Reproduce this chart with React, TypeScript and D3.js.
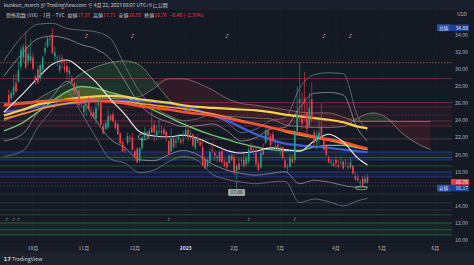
import React from 'react';
import * as d3 from 'd3';

// ---------- DATA ----------
const OPEN = [
  27.0,26.6,27.0,28.4,28.6,30.3,31.4,32.8,31.0,31.0,
  31.4,29.2,30.0,29.0,30.0,32.0,32.7,33.6,34.1,31.5,
  31.3,29.9,31.3,30.3,30.4,29.5,29.0,28.4,27.3,27.5,
  26.3,25.0,25.7,26.7,24.9,25.0,24.2,25.8,26.1,23.4,
  23.0,23.2,24.6,24.7,23.8,23.6,22.5,21.5,20.6,21.4,
  22.0,22.0,20.4,20.7,19.3,20.8,22.0,22.6,22.3,23.2,
  23.5,22.1,22.8,22.8,23.0,22.7,21.6,20.4,21.9,21.4,
  21.8,21.7,21.6,22.3,22.9,22.4,22.4,20.8,22.0,21.5,
  20.9,19.5,18.7,19.2,20.6,20.2,19.6,20.3,20.4,19.1,
  19.1,19.0,19.9,19.6,18.1,19.0,19.3,19.4,18.9,19.2,
  21.0,20.6,20.2,19.0,18.5,20.5,21.4,22.8,22.2,22.4,
  21.0,21.2,20.5,20.9,19.3,18.6,18.6,19.5,19.4,22.8,
  26.1,24.3,26.6,25.0,23.3,26.5,22.6,21.5,21.9,23.3,
  21.7,21.0,19.6,19.0,19.0,19.4,18.8,19.0,19.2,19.1,
  18.6,18.5,18.7,17.5,17.3,16.8,17.2,16.7,17.37];
const HIGH = [
  27.6,27.6,29.4,29.5,31.0,32.7,33.0,34.5,32.9,33.6,
  31.9,29.4,30.5,30.6,31.6,33.2,33.8,34.0,34.88,32.7,
  31.7,31.7,31.8,31.0,31.0,30.3,29.3,28.6,28.4,27.6,
  26.4,26.0,26.5,26.8,25.6,25.3,26.2,26.5,26.2,23.7,
  24.0,25.4,24.8,25.1,24.1,23.7,22.6,21.7,21.0,22.6,
  22.3,22.6,20.6,20.9,20.9,22.2,23.2,22.8,23.1,25.1,
  24.0,23.5,24.2,23.4,23.2,22.8,21.7,23.1,22.0,22.2,
  22.5,22.0,22.8,23.8,23.6,22.9,22.5,22.2,22.4,21.6,
  21.6,19.6,19.6,20.8,21.5,20.4,20.0,20.5,21.0,19.5,
  19.3,20.0,20.1,20.1,18.9,19.6,19.6,20.1,19.9,21.0,
  21.4,21.1,20.9,19.3,20.4,21.3,23.2,23.3,22.5,22.8,
  21.6,21.5,21.2,21.0,19.6,19.0,20.1,20.0,22.9,28.0,
  30.81,27.3,29.7,26.3,27.3,28.5,22.9,22.8,24.0,26.0,
  22.0,21.2,19.9,19.5,19.4,19.8,19.4,19.8,19.3,19.5,
  19.1,19.6,18.8,18.0,17.7,17.1,17.5,17.6,17.71];
const LOW = [
  25.9,26.3,26.8,27.3,28.4,29.9,30.8,30.0,30.4,30.9,
  29.9,28.2,28.3,28.6,29.5,31.6,32.5,32.8,31.8,30.9,
  30.4,29.6,30.2,29.6,28.8,28.6,28.3,27.0,26.8,25.7,
  25.5,24.4,24.5,25.2,24.2,24.2,23.6,25.3,23.4,22.4,
  22.8,23.0,23.9,23.8,22.9,22.3,21.3,20.3,20.2,21.2,
  21.5,20.5,19.3,19.06,19.1,20.5,21.8,22.0,21.9,22.5,
  21.5,21.7,22.4,22.0,22.3,21.5,20.0,20.3,20.7,20.8,
  21.4,21.2,21.2,22.0,21.6,21.8,20.9,20.6,21.3,20.9,
  18.6,18.3,18.4,18.6,20.2,19.3,19.1,19.1,19.0,18.5,
  18.1,18.9,19.2,17.6,17.06,18.1,18.7,18.4,18.6,18.9,
  20.3,20.0,18.6,18.1,18.3,20.0,21.2,21.8,20.9,21.3,
  20.6,20.3,19.9,19.5,18.4,18.0,18.4,18.9,19.0,22.2,
  23.9,23.0,23.9,22.5,23.1,23.8,20.9,20.6,21.2,21.7,
  20.5,19.9,19.0,18.7,18.6,18.5,18.3,18.8,18.2,18.6,
  18.2,18.3,17.7,16.9,16.8,16.4,16.17,16.6,16.55];
const CLOSE = [
  26.0,27.2,28.0,27.4,29.9,32.3,32.6,30.2,31.8,31.6,
  30.1,28.6,28.5,30.5,31.4,32.5,33.6,33.6,31.9,32.0,
  31.4,30.5,30.8,30.0,29.7,29.9,28.5,27.3,27.4,25.8,
  25.9,25.8,25.9,25.3,24.6,24.4,25.5,26.1,23.5,22.5,
  23.7,24.5,24.1,23.9,23.1,22.4,21.3,20.4,20.5,22.2,
  21.9,20.6,19.8,19.1,20.8,22.0,22.7,22.3,22.8,22.6,
  22.7,22.8,22.8,22.6,22.4,22.0,20.1,21.9,20.9,21.6,
  22.1,21.4,21.7,22.9,22.0,22.5,21.1,22.0,21.5,21.1,
  18.8,18.4,19.4,20.3,20.5,19.9,19.8,19.2,19.1,18.7,
  18.5,19.9,19.4,17.9,18.7,18.3,19.4,18.7,19.6,20.6,
  20.5,20.3,18.9,18.2,20.2,20.0,22.9,22.3,21.1,21.7,
  21.0,20.7,20.6,19.6,18.5,18.6,19.6,19.1,22.6,24.8,
  26.5,23.7,26.1,23.0,25.5,24.1,21.4,22.3,22.6,21.7,
  20.6,20.0,19.1,19.1,18.7,19.0,18.6,19.1,18.4,19.0,
  18.5,19.1,17.8,17.1,17.0,16.8,16.5,17.2,16.76];

// indicator lines, sampled at these bar indices
const SAMPLE_IDX = [-2,6,12,18,24,30,36,42,48,54,60,66,72,78,84,90,96,102,108,114,120,126,132,138,144,148];
const MA_YELLOW = [24.6,25.3,25.9,26.2,26.5,26.7,26.85,26.9,26.8,26.5,26.3,26.1,25.8,25.6,25.5,25.4,25.3,25.2,25.0,24.7,24.5,24.3,24.1,23.8,23.3,23.1];
const MA_RED = [25.8,26.0,26.2,26.35,26.4,26.4,26.35,26.2,26.0,25.7,25.5,25.3,25.0,24.8,24.6,24.3,23.9,23.6,23.2,22.8,22.5,22.1,21.8,21.5,21.0,20.7];
const MA_ORANGE = [24.2,24.8,25.3,25.7,26.0,26.2,26.3,26.3,26.2,26.0,25.8,25.6,25.4,25.1,24.8,24.4,24.0,23.6,23.2,22.7,22.3,22.0,21.7,21.3,20.9,20.6];
const MA_BLUE = [25.0,25.3,25.6,25.8,26.0,26.1,26.3,26.3,26.3,26.3,26.2,26.0,25.7,25.2,24.6,24.0,23.2,22.4,21.8,21.3,21.1,20.95,20.8,20.6,20.4,20.3];
const MA_GREEN = [22.8,23.8,25.0,26.3,27.4,28.0,27.8,27.3,26.8,26.0,25.2,24.4,23.6,22.9,22.3,21.8,21.3,20.9,20.6,20.5,20.5,20.9,21.1,21.1,20.8,20.6];
const BB_MID = [25.0,27.2,29.0,30.6,31.1,30.0,28.5,26.5,24.7,22.7,22.2,22.1,22.3,21.9,21.2,20.5,20.2,20.4,20.8,20.6,20.4,21.6,22.4,21.5,19.6,18.8];
const BB_UP2 = [29.2,32.0,33.6,33.9,33.6,32.9,32.4,31.2,28.6,25.9,24.5,23.8,23.3,23.4,23.6,22.8,21.6,22.0,23.0,23.2,25.5,27.2,27.3,27.0,23.0,21.6];
const BB_UP3 = [31.0,34.0,35.3,35.4,34.8,34.6,34.4,33.6,30.4,27.4,25.6,24.6,24.0,24.2,24.8,23.8,22.6,23.0,24.0,24.3,27.8,29.4,29.6,29.5,24.5,22.8];
const BB_LO2 = [21.6,22.5,25.0,26.8,28.6,26.6,24.0,21.8,20.8,19.4,19.3,20.0,20.5,20.0,18.9,18.2,17.8,17.6,17.8,18.0,16.6,17.0,16.8,16.4,16.2,16.2];
const BB_LO3 = [19.8,20.5,23.2,25.3,27.4,24.9,22.0,19.5,19.0,17.9,18.2,19.2,19.8,19.3,17.7,17.1,16.8,16.6,16.8,16.9,14.4,14.8,14.5,14.0,14.6,14.9];

const CLOUD_IDX = [-2,6,12,18,24,30,36,42,48,54,60,66,72,78,84,90,96,102,108,114,120,126,132,138,144,150,156,162,168,174];
const SPAN_A = [24.0,25.0,26.5,27.5,28.3,29.5,30.3,30.8,31.0,30.5,28.6,26.5,25.3,24.8,24.6,24.5,24.4,24.3,24.2,23.5,23.3,23.2,23.2,23.3,24.3,24.9,24.3,22.6,21.4,20.6];
const SPAN_B = [26.0,26.2,26.3,26.4,26.5,26.6,26.6,26.6,26.6,26.8,27.8,28.9,28.9,28.4,27.6,26.6,26.0,25.8,25.5,25.3,25.0,24.9,24.9,24.4,23.9,23.9,23.9,23.9,23.9,23.9];

const LEVELS = [30.79,28.94,26.12,25.6,24.66,23.95,23.37,21.84,20.32,19.67,19.38,18.68,17.97,17.4,16.33,15.4,14.35,13.52,12.95,12.0,11.2,10.6];
const LEVEL_COLORS = ['#a0703c','#7d3546','#7d3546','#6a2c3a','#7d3546','#7d3546','#6a2c3a','#5a4450','#2f43a0','#3d4fbf','#2f43a0','#2f6a48','#2f43a0','#2f43a0','#3a4a86','#3a3f4e','#3a3f4e','#3a3f4e','#2f6a48','#2f7548','#2f7548','#2f7548'];
const LEVEL_DASH = ['1.5,1.5','','','','1.5,1.5','','','','','','','','','','1.5,1.5','','','','','','',''];
const ZONES = [[23.2,26.1],[19.35,20.35],[17.4,18.0],[10.6,12.0]];
const ZONE_COLORS = ['rgba(150,40,60,0.08)','rgba(50,70,180,0.18)','rgba(50,70,180,0.12)','rgba(40,120,60,0.13)'];

const MONTH_LABELS = ['10月','11月','12月','2023','2月','3月','4月','5月','6月'];
const MONTH_IDX = [10,31,52,73,93,112,135,154,176];
const PRICE_TICKS = [10,12,14,18,20,22,24,26,28,30,32,34];
const MARK_IDX = [32,51,90,130,141];
const BOTTOM_MARK_IDX = [-1,2,4,66,99,118];

const TITLE = 'kunkun_march が TradingView.com で 4月 22, 2023 08:07 UTC+9 に公開';
const SYMBOL = '恐怖指数 (VIX) · 1日 · TVC';
const OHLC_LABELS = ['始値','高値','安値','終値'];
const OHLC_VALUES = ['17.37','17.71','16.55','16.76'];
const CHANGE = '−0.40 (−2.33%)';
const HIGH_LABEL = ['高値','34.88'];
const LOW_LABEL = ['安値','16.17'];
const LAST_PRICE = 16.76;
const LOW_MARK = { idx: 94, value: 17.06 };

const FONT = '"Noto Sans CJK JP", "Noto Sans", sans-serif';

export default function App() {
  const x = d3.scaleLinear().domain([-2, 183]).range([3.9, 452.3]);
  const y = d3.scaleLinear().domain([10, 34]).range([240, 35.3]);
  const plotL = 0, plotR = 452, plotT = 10, plotB = 243;

  const mk = (vals: number[], idx: number[] = SAMPLE_IDX) =>
    d3.line<number>().x((_, i) => x(idx[i])).y(d => y(d)).curve(d3.curveMonotoneX)(vals) || '';

  const areaBetween = (lo: number[], hi: number[], idx: number[]) =>
    d3.area<number>().x((_, i) => x(idx[i])).y0((_, i) => y(lo[i])).y1((_, i) => y(hi[i])).curve(d3.curveMonotoneX)(lo) || '';

  const cloudMax = SPAN_A.map((a, i) => Math.max(a, SPAN_B[i]));
  const ribbonMax = MA_GREEN.map((g, i) => Math.max(g, MA_RED[i]));

  const bw = 1.6;
  const upC = '#1fa386', dnC = '#f0414f';

  return (
    <svg width={474} height={265} style={{ position: 'absolute', left: 0, top: 0, display: 'block' }} fontFamily={FONT}>
      <defs>
        <clipPath id="plot"><rect x={plotL} y={plotT} width={plotR - plotL} height={plotB - plotT} /></clipPath>
      </defs>
      <rect x={0} y={0} width={474} height={265} fill="#151924" />
      <rect x={0} y={0} width={474} height={10} fill="#1b1f2b" />
      <rect x={0} y={243} width={474} height={10} fill="#181c27" />
      <rect x={0} y={253} width={474} height={12} fill="#1e222d" />

      <g clipPath="url(#plot)">
        {/* grid */}
        {MONTH_IDX.map((m, i) => (
          <line key={'vg' + i} x1={x(m)} x2={x(m)} y1={plotT} y2={plotB} stroke="#1d2230" strokeWidth={0.6} />
        ))}
        {PRICE_TICKS.map((p, i) => (
          <line key={'hg' + i} x1={plotL} x2={plotR} y1={y(p)} y2={y(p)} stroke="#1d2230" strokeWidth={0.6} />
        ))}
        {/* zones */}
        {ZONES.map((z, i) => (
          <rect key={'z' + i} x={plotL} width={plotR - plotL} y={y(z[1])} height={y(z[0]) - y(z[1])} fill={ZONE_COLORS[i]} />
        ))}
        {/* levels */}
        {LEVELS.map((p, i) => (
          <line key={'lv' + i} x1={plotL} x2={plotR} y1={y(p)} y2={y(p)} stroke={LEVEL_COLORS[i]} strokeWidth={0.8}
            strokeDasharray={LEVEL_DASH[i] || undefined} opacity={0.9} />
        ))}
        {/* cloud */}
        <path d={areaBetween(SPAN_B, cloudMax, CLOUD_IDX)} fill="rgba(76,175,80,0.17)" />
        <path d={areaBetween(SPAN_A, cloudMax, CLOUD_IDX)} fill="rgba(180,40,50,0.18)" />
        <path d={mk(SPAN_A, CLOUD_IDX)} fill="none" stroke="#9fb99f" strokeWidth={0.7} opacity={0.8} />
        <path d={mk(SPAN_B, CLOUD_IDX)} fill="none" stroke="#b39a9e" strokeWidth={0.7} opacity={0.8} />
        {/* ribbon fill */}
        <path d={areaBetween(MA_RED, ribbonMax, SAMPLE_IDX)} fill="rgba(200,215,60,0.25)" />
        {/* bollinger */}
        {[BB_UP3, BB_LO3].map((b, i) => (
          <path key={'b3' + i} d={mk(b)} fill="none" stroke="#7d828f" strokeWidth={0.7} />
        ))}
        {[BB_UP2, BB_LO2].map((b, i) => (
          <path key={'b2' + i} d={mk(b)} fill="none" stroke="#a3a7b2" strokeWidth={0.7} />
        ))}
        {/* moving averages */}
        <path d={mk(MA_GREEN)} fill="none" stroke="#6cc070" strokeWidth={1.4} />
        <path d={mk(MA_BLUE)} fill="none" stroke="#3f5fe0" strokeWidth={2.2} />
        <path d={mk(MA_YELLOW)} fill="none" stroke="#f2d34b" strokeWidth={2.2} />
        <path d={mk(MA_ORANGE)} fill="none" stroke="#ff9a2e" strokeWidth={1.6} />
        <path d={mk(MA_RED)} fill="none" stroke="#f4532f" strokeWidth={2.6} />
        <path d={mk(BB_MID)} fill="none" stroke="#eeeeee" strokeWidth={1.1} />
        {/* last price line */}
        <line x1={plotL} x2={plotR} y1={y(LAST_PRICE)} y2={y(LAST_PRICE)} stroke="#f23645" strokeWidth={0.6} strokeDasharray="1,1.5" opacity={0.8} />
        {/* candles */}
        {CLOSE.map((c, i) => {
          const o = OPEN[i], up = c >= o;
          const col = up ? upC : dnC;
          const top = y(Math.max(o, c)), bot = y(Math.min(o, c));
          return (
            <g key={'c' + i}>
              <line x1={x(i)} x2={x(i)} y1={y(HIGH[i])} y2={y(LOW[i])} stroke={col} strokeWidth={0.6} />
              <rect x={x(i) - bw / 2} y={top} width={bw} height={Math.max(0.6, bot - top)} fill={col} />
            </g>
          );
        })}
        {/* highlights */}
        <ellipse cx={x(55.5)} cy={y(22.1)} rx={5} ry={3} fill="none" stroke="#b5d6a7" strokeWidth={0.7} />
        <ellipse cx={x(145.5)} cy={y(16.1)} rx={6} ry={1.8} fill="none" stroke="#a5d6a7" strokeWidth={0.7} />
        {/* event marks */}
        {MARK_IDX.map((m, i) => (
          <text key={'mk' + i} x={x(m)} y={38} fontSize={6} fill="#d8a2bd" textAnchor="middle" fontFamily='"DejaVu Sans"'>♪</text>
        ))}
        {BOTTOM_MARK_IDX.map((m, i) => (
          <text key={'bm' + i} x={x(m)} y={221} fontSize={4.5} fill="#9fc0a8" textAnchor="middle" fontFamily='"DejaVu Sans"'>♪</text>
        ))}
        {/* low mark label */}
        <line x1={x(LOW_MARK.idx)} x2={x(LOW_MARK.idx)} y1={y(LOW_MARK.value) + 2} y2={189} stroke="#9aa5a0" strokeWidth={0.5} />
        <rect x={x(LOW_MARK.idx) - 8.5} y={189} width={17} height={7} rx={1} fill="#9aa8a2" />
        <text x={x(LOW_MARK.idx)} y={194.4} fontSize={4.8} fill="#1a1d26" textAnchor="middle">{LOW_MARK.value.toFixed(2)}</text>
      </g>

      {/* header */}
      <text x={4} y={6.5} fontSize={5} fill="#c9ccd4">{TITLE}</text>
      <text x={6} y={16.5} fontSize={5} fill="#c9ccd4">
        <tspan>{SYMBOL}</tspan>
        {OHLC_LABELS.map((l, i) => (
          <React.Fragment key={'oh' + i}>
            <tspan dx={3}>{l}</tspan>
            <tspan fill="#f23645">{OHLC_VALUES[i]}</tspan>
          </React.Fragment>
        ))}
        <tspan dx={3} fill="#f23645">{CHANGE}</tspan>
      </text>
      <text x={462} y={15.5} fontSize={5} fill="#b2b5be" textAnchor="middle">USD</text>
      <text x={462} y={21} fontSize={3.5} fill="#5d606b" textAnchor="middle">------</text>

      {/* right axis */}
      {PRICE_TICKS.map((p, i) => (
        <text key={'pt' + i} x={468} y={y(p) + 1.8} fontSize={5.2} fill="#b2b5be" textAnchor="end">{p.toFixed(2)}</text>
      ))}
      <rect x={437} y={y(34.88) - 3.3} width={32} height={6.6} fill="#1f3f8f" />
      <rect x={437} y={y(34.88) - 3.3} width={13} height={6.6} fill="#2a4fa8" />
      <text x={443.5} y={y(34.88) + 1.8} fontSize={4.6} fill="#d6dcf0" textAnchor="middle">{HIGH_LABEL[0]}</text>
      <text x={468} y={y(34.88) + 1.8} fontSize={5} fill="#e8ecf8" textAnchor="end">{HIGH_LABEL[1]}</text>
      <rect x={451} y={y(LAST_PRICE) - 3.3} width={18} height={6.6} fill="#f23645" />
      <text x={468} y={y(LAST_PRICE) + 1.8} fontSize={5} fill="#ffffff" textAnchor="end">{LAST_PRICE.toFixed(2)}</text>
      <rect x={437} y={y(16.17) - 2.6} width={32} height={6.6} fill="#1f3f8f" />
      <rect x={437} y={y(16.17) - 2.6} width={13} height={6.6} fill="#2a4fa8" />
      <text x={443.5} y={y(16.17) + 2.5} fontSize={4.6} fill="#d6dcf0" textAnchor="middle">{LOW_LABEL[0]}</text>
      <text x={468} y={y(16.17) + 2.5} fontSize={5} fill="#e8ecf8" textAnchor="end">{LOW_LABEL[1]}</text>

      {/* time axis */}
      {MONTH_LABELS.map((m, i) => (
        <text key={'ml' + i} x={x(MONTH_IDX[i])} y={249.5} fontSize={5} textAnchor="middle"
          fill={m === '2023' ? '#e0e3eb' : '#b2b5be'} fontWeight={m === '2023' ? 'bold' : 'normal'}>{m}</text>
      ))}

      {/* footer */}
      <text x={3.5} y={261} fontSize={5.5} fontWeight="bold" fill="#d1d4dc" fontFamily='"DejaVu Sans"'>17</text>
      <text x={12} y={261} fontSize={5.3} fill="#d1d4dc">TradingView</text>
    </svg>
  );
}
